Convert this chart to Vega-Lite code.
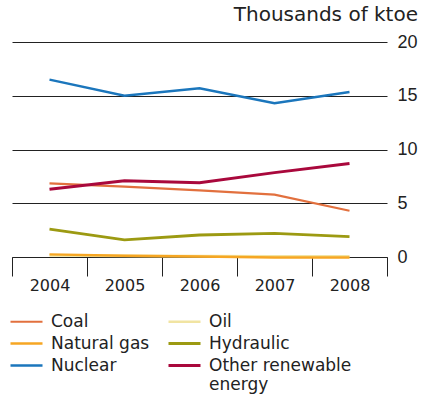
{
  "$schema": "https://vega.github.io/schema/vega-lite/v6.json",
  "autosize": {"type": "none"},
  "width": 375,
  "height": 215,
  "padding": {"left": 12, "top": 42, "right": 34, "bottom": 142},
  "title": {"text": "Thousands of ktoe", "anchor": "end", "frame": "group", "orient": "top", "offset": 8, "font": "DejaVu Sans", "fontSize": 20, "fontWeight": "normal", "color": "#222", "dx": 31},
  "config": {
    "view": {"stroke": null},
    "font": "DejaVu Sans"
  },
  "data": {"values": [
    {"year": "2004", "source": "Coal", "value": 6.85},
    {"year": "2005", "source": "Coal", "value": 6.55},
    {"year": "2006", "source": "Coal", "value": 6.2},
    {"year": "2007", "source": "Coal", "value": 5.8},
    {"year": "2008", "source": "Coal", "value": 4.3},
    {"year": "2004", "source": "Oil", "value": 0.15},
    {"year": "2005", "source": "Oil", "value": 0.1},
    {"year": "2006", "source": "Oil", "value": 0.08},
    {"year": "2007", "source": "Oil", "value": 0.06},
    {"year": "2008", "source": "Oil", "value": 0.05},
    {"year": "2004", "source": "Natural gas", "value": 0.25},
    {"year": "2005", "source": "Natural gas", "value": 0.12},
    {"year": "2006", "source": "Natural gas", "value": 0.05},
    {"year": "2007", "source": "Natural gas", "value": -0.05},
    {"year": "2008", "source": "Natural gas", "value": -0.05},
    {"year": "2004", "source": "Hydraulic", "value": 2.6},
    {"year": "2005", "source": "Hydraulic", "value": 1.6},
    {"year": "2006", "source": "Hydraulic", "value": 2.05},
    {"year": "2007", "source": "Hydraulic", "value": 2.2},
    {"year": "2008", "source": "Hydraulic", "value": 1.9},
    {"year": "2004", "source": "Nuclear", "value": 16.5},
    {"year": "2005", "source": "Nuclear", "value": 15.0},
    {"year": "2006", "source": "Nuclear", "value": 15.7},
    {"year": "2007", "source": "Nuclear", "value": 14.3},
    {"year": "2008", "source": "Nuclear", "value": 15.35},
    {"year": "2004", "source": "Other renewable energy", "value": 6.3},
    {"year": "2005", "source": "Other renewable energy", "value": 7.1},
    {"year": "2006", "source": "Other renewable energy", "value": 6.9},
    {"year": "2007", "source": "Other renewable energy", "value": 7.85},
    {"year": "2008", "source": "Other renewable energy", "value": 8.7}
  ]},
  "encoding": {
    "x": {
      "field": "year", "type": "ordinal",
      "scale": {"type": "band", "paddingInner": 0, "paddingOuter": 0},
      "axis": {"title": null, "tickBand": "extent", "tickSize": 19, "tickColor": "#222", "domainColor": "#222", "labelFont": "DejaVu Sans", "labelFontSize": 16, "labelColor": "#222", "labelPadding": 1, "labelAngle": 0, "grid": false}
    },
    "y": {
      "field": "value", "type": "quantitative",
      "scale": {"domain": [0, 20], "nice": false},
      "axis": {"orient": "right", "title": null, "values": [0, 5, 10, 15, 20], "domain": false, "ticks": false, "grid": true, "gridColor": "#222", "gridOpacity": 1, "gridWidth": 1, "labelFont": "Liberation Sans", "labelFontSize": 18, "labelColor": "#222", "labelPadding": 10}
    },
    "color": {
      "field": "source", "type": "nominal",
      "scale": {
        "domain": ["Coal", "Natural gas", "Nuclear", "Oil", "Hydraulic", "Other renewable energy"],
        "range": ["#E2703E", "#F6A623", "#1B76BC", "#F1E4A2", "#9C9A12", "#A9083C"]
      },
      "legend": {
        "title": null, "orient": "none", "legendX": 3, "legendY": 268,
        "columns": 2, "columnPadding": 12, "rowPadding": 2,
        "symbolType": "M-1.6,0H1.6", "symbolSize": 400, "symbolStrokeWidth": 3.5, "symbolFillColor": "transparent",
        "labelFont": "DejaVu Sans", "labelFontSize": 17, "labelColor": "#222", "labelOffset": 13, "labelLimit": 220,
        "labelExpr": "datum.label == 'Other renewable energy' ? ['Other renewable', 'energy'] : datum.label"
      }
    },
    "strokeWidth": {
      "field": "source", "type": "nominal", "legend": null,
      "scale": {
        "domain": ["Coal", "Natural gas", "Nuclear", "Oil", "Hydraulic", "Other renewable energy"],
        "range": [2.2, 3, 2.4, 4, 2.6, 4]
      }
    }
  },
  "layer": [
    {"transform": [{"filter": "datum.source == 'Oil'"}], "mark": {"type": "line", "clip": false}},
    {"transform": [{"filter": "datum.source != 'Oil'"}], "mark": {"type": "line", "clip": false}}
  ]
}
